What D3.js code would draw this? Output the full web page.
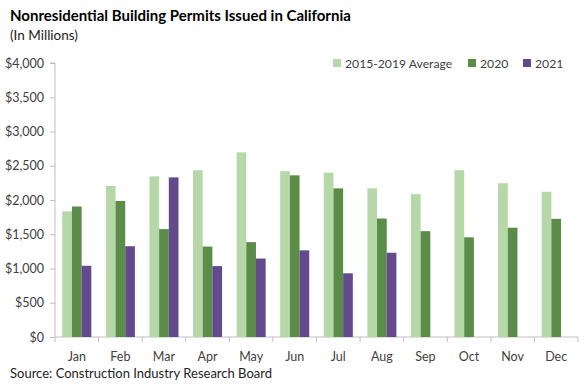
<!DOCTYPE html>
<html><head><meta charset="utf-8">
<script src="https://cdn.jsdelivr.net/npm/d3@7"></script>
<style>
body{margin:0;background:#fff;}
text{font-family:Lato,"Open Sans",sans-serif;}
</style></head>
<body><svg id="c" width="585" height="384"></svg>
<script>
const months = ["Jan","Feb","Mar","Apr","May","Jun","Jul","Aug","Sep","Oct","Nov","Dec"];
const seriesNames = ["2015-2019 Average","2020","2021"];
const avg1519 = [1835,2205,2345,2435,2695,2420,2400,2170,2085,2435,2245,2120];
const y2020 = [1905,1985,1575,1320,1385,2360,2170,1730,1545,1455,1595,1725];
const y2021 = [1040,1325,2330,1035,1145,1265,930,1230,null,null,null,null];
const yTicks = [0,500,1000,1500,2000,2500,3000,3500,4000];
const colors = ["#b6d7a8","#5b8c48","#624a8c"];

(function(){
const svg = d3.select("#c");
const mL = 55, mR = 578, mT = 63, mB = 337;
const x = d3.scaleBand().domain(months).range([mL,mR]).paddingInner(0).paddingOuter(0);
const x1 = d3.scaleBand().domain(seriesNames).range([0,x.bandwidth()]).paddingInner(0).paddingOuter(0.75);
const y = d3.scaleLinear().domain([0,4000]).range([mB,mT]);

svg.append("text").attr("x",10).attr("y",21).attr("font-size",15).attr("font-weight","bold").attr("fill","#000")
  .text("Nonresidential Building Permits Issued in California");
svg.append("text").attr("x",10).attr("y",40).attr("font-size",13.5).attr("fill","#222").text("(In Millions)");

const ya = svg.append("g").attr("transform",`translate(${mL},0)`)
  .call(d3.axisLeft(y).tickValues(yTicks).tickFormat(d=>"$"+d3.format(",")(d)).tickSize(5).tickPadding(6));
ya.select(".domain").attr("stroke","#bfbfbf").attr("d",`M-5,${mT}H0V${mB}`);
ya.selectAll(".tick line").attr("stroke","#bfbfbf");
ya.selectAll(".tick text").attr("font-size",12.5).attr("fill","#404040").attr("font-family","Lato,'Open Sans',sans-serif");

const xa = svg.append("g").attr("transform",`translate(0,${mB})`);
xa.append("line").attr("x1",mL).attr("x2",mR).attr("y1",0).attr("y2",0).attr("stroke","#bfbfbf");
const bounds = months.map(m=>x(m)).concat([mR]);
xa.selectAll("line.t").data(bounds).join("line").attr("class","t")
  .attr("x1",d=>d).attr("x2",d=>d).attr("y1",0).attr("y2",5).attr("stroke","#bfbfbf");
xa.selectAll("text").data(months).join("text")
  .attr("x",d=>x(d)+x.bandwidth()/2).attr("y",24).attr("text-anchor","middle")
  .attr("font-size",12.5).attr("fill","#404040").text(d=>d);

const data = [avg1519,y2020,y2021];
const g = svg.append("g");
data.forEach((arr,si)=>{
  g.selectAll(null).data(months.map((m,i)=>({m,v:arr[i]})).filter(d=>d.v!=null)).join("rect")
    .attr("x",d=>x(d.m)+x1(seriesNames[si]))
    .attr("width",x1.bandwidth())
    .attr("y",d=>y(d.v)).attr("height",d=>mB-y(d.v))
    .attr("fill",colors[si]);
});

const legX = [333,468,523];
seriesNames.forEach((s,i)=>{
  svg.append("rect").attr("x",legX[i]).attr("y",59).attr("width",8).attr("height",8).attr("fill",colors[i]);
  svg.append("text").attr("x",legX[i]+12).attr("y",67.5).attr("font-size",12.2).attr("fill","#404040").text(s);
});

svg.append("text").attr("x",10).attr("y",378).attr("font-size",13).attr("fill","#222")
  .text("Source: Construction Industry Research Board");
})();
</script></body></html>
